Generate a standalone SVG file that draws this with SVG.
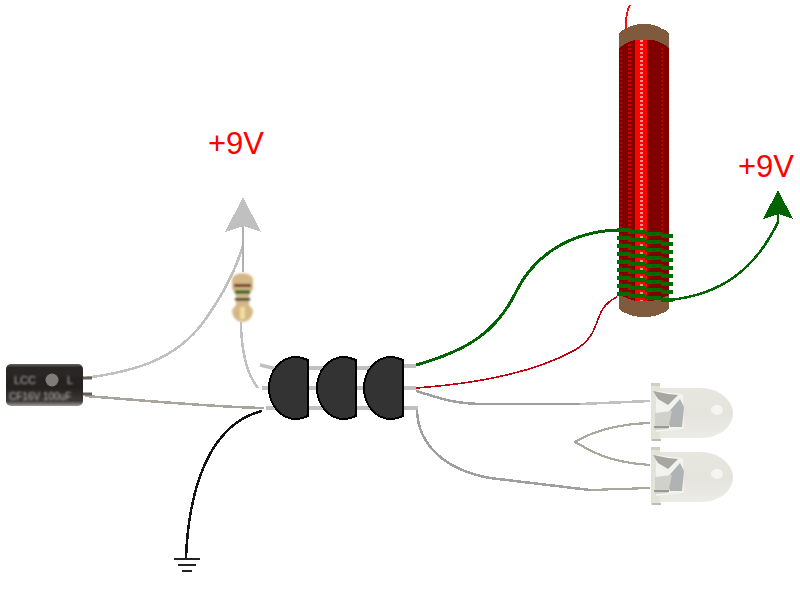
<svg xmlns="http://www.w3.org/2000/svg" width="800" height="600" viewBox="0 0 800 600">
<style>
.w{fill:none;stroke-linecap:butt;stroke-linejoin:round;shape-rendering:crispEdges}
.gray{stroke:#c0c0c0;stroke-width:2.5}
.lead{stroke:#c0c0c0;stroke-width:4;fill:none}
.led{stroke:#a9a99d;stroke-width:2.2}
.green{stroke:#006400;stroke-width:3}
.wind{stroke:#006c00;stroke-width:4;fill:none;shape-rendering:crispEdges}
.red{stroke:#c00010;stroke-width:1.6}
.t{fill:#333;stroke:#000;stroke-width:2;shape-rendering:crispEdges}
.v{font-family:"Liberation Sans",Arial,sans-serif;font-size:32px;fill:#ff0000}
.px{shape-rendering:crispEdges}
</style>
<defs>
<filter id="b" x="-10%" y="-10%" width="120%" height="120%"><feGaussianBlur stdDeviation="1"/></filter>
<filter id="b2" x="-10%" y="-10%" width="120%" height="120%"><feGaussianBlur stdDeviation="0.7"/></filter>
<linearGradient id="cap" x1="0" y1="0" x2="0" y2="1"><stop offset="0" stop-color="#6a6360"/><stop offset=".08" stop-color="#2c2826"/><stop offset=".55" stop-color="#242120"/><stop offset=".88" stop-color="#3c3837"/><stop offset="1" stop-color="#a09b97"/></linearGradient>
<linearGradient id="led" x1="0" y1="0" x2="0" y2="1"><stop offset="0" stop-color="#e8e7df"/><stop offset=".5" stop-color="#e4e3dc"/><stop offset="1" stop-color="#ecece6"/></linearGradient>
<g id="ledshape">
<g filter="url(#b2)">
<path d="M660 5 H700 C722 5 733 20 733 30 C733 42 722 55 700 55 H660 Z" fill="url(#led)"/>
<rect x="651" y="0" width="9" height="58" fill="#e4e3da"/>
<rect x="651" y="0" width="9" height="3" fill="#cfcec4"/>
<rect x="652" y="56" width="9" height="2" fill="#bdbcb2"/>
<path d="M656 8 L683 11 L684 46 L656 49 Z" fill="#f2f2ee"/>
<path d="M653 8 L668 11 L678 12 L668 22 L658 16 Z" fill="#a8a8a0"/>
<path d="M666 32 L680 16 L684 24 L682 44 L670 44 Z" fill="#b0b3b3"/>
<path d="M655 30 L672 28 L668 46 L655 47 Z" fill="#d0d1cc"/>
<rect x="654" y="43" width="15" height="2" fill="#9a9a92"/>
<ellipse cx="717" cy="27" rx="6" ry="5" fill="#f5f5f1"/>
</g>
</g>
<path id="turn" d="M617 0 H629 M629 2 H645 M645 4 H661 M661 6 H673"/>
</defs>
<rect width="800" height="600" fill="#fff"/>

<g id="connectors">
<path class="w gray" d="M85 378 C130 372 175 362 205 320 C222 296 236 270 243 245"/>
<path class="w" stroke="#b0b0b0" stroke-width="2.5" d="M243 214 V272"/>
<path class="w gray" d="M241 322 C241 350 247 375 258 388"/>
<path class="w" stroke="#a9a49c" stroke-width="2.5" d="M85 396 C140 400 210 407 264 408"/>
<path class="w" stroke="#141414" stroke-width="2.5" d="M262 411 C225 420 190 460 186 558"/>
<path class="w green" d="M416 365 C470 350 498 330 517 290 C535 255 570 232 617 230"/>
<path class="w" stroke="#006400" stroke-width="2.5" d="M669 300 C720 295 755 270 778 222 V212"/>
<path class="w red" d="M416 388 C470 384 530 375 575 350 C605 332 590 310 617 297"/>
<path class="w" stroke="#9f9f9f" stroke-width="2.5" d="M416 391 C440 398 450 403 480 404 L580 404"/>
<path class="w" stroke="#c0c0c0" stroke-width="2.5" d="M580 404 L650 401"/>
<path class="w" stroke="#9f9f9f" stroke-width="2.5" d="M417 410 C418 445 445 470 490 478 L590 490"/>
<path class="w led" d="M590 490 L650 488"/>
<path class="w led" d="M650 423 C620 424 595 430 575 442 C590 450 605 462 650 465"/>
<path class="w" stroke="#ee1010" stroke-width="1.8" d="M630 5 C626 12 625 24 627 33 C629 38 632 39 636 39"/>
</g>

<g id="plus9v-left">
<text class="v" x="208" y="154" textLength="56" lengthAdjust="spacingAndGlyphs">+9V</text>
<path class="px" d="M243 197 L261 232 L243 226 L225 232 Z" fill="#c0c0c0"/>
</g>

<g id="plus9v-right">
<text class="v" x="738" y="177" textLength="56" lengthAdjust="spacingAndGlyphs">+9V</text>
<path class="px" d="M778 190 L793 219 L778 214 L763 219 Z" fill="#006400"/>
</g>

<g id="capacitor">
<path d="M83 378 H92 M83 394 H92" stroke="#6a5f55" stroke-width="3" filter="url(#b2)"/>
<rect x="6" y="364" width="77" height="42" rx="5" fill="url(#cap)" filter="url(#b2)"/>
<g font-family="'Liberation Sans',Arial,sans-serif" fill="#b8b4b0" filter="url(#b)">
<text x="14" y="384" font-size="11">LCC</text>
<text x="67" y="384" font-size="11">L</text>
<text x="9" y="400" font-size="10">CF16V 100uF</text>
</g>
<circle cx="52" cy="380" r="6.5" fill="#7f7c79" filter="url(#b2)"/>
</g>

<g id="resistor">
<g filter="url(#b)">
<path d="M232 280 C232 271 253 271 253 280 V289 L249 295 V305 L253 310 C253 326 232 326 232 310 L236 305 V295 L232 289 Z" fill="#d4b785"/>
<rect x="234" y="284" width="17" height="3" fill="#6a2018"/>
<rect x="235" y="290" width="15" height="4" fill="#3f6a3a"/>
<rect x="235" y="298" width="15" height="2.5" fill="#222"/>
<rect x="240" y="307" width="5" height="12" fill="#f0dca0"/>
</g>
</g>

<g id="transistors">
<path class="lead px" d="M300 368 H325 M350 368 H370 M400 366 H416 M262 388 H276 M300 388 H325 M350 388 H370 M400 388 H416 M266 408 H276 M300 408 H325 M350 408 H370 M400 408 H418"/>
<path d="M260 365 L277 369" stroke="#c0c0c0" stroke-width="3.5" fill="none"/>
<path class="t" d="M308 360 Q300 357 296 357 C280 357 269 372 269 388 C269 404 280 419 296 419 Q302 419 308 416 Z"/>
<path class="t" d="M356 360 Q348 357 344 357 C328 357 317 372 317 388 C317 404 328 419 344 419 Q350 419 356 416 Z"/>
<path class="t" d="M403 360 Q395 357 391 357 C375 357 364 372 364 388 C364 404 375 419 391 419 Q397 419 403 416 Z"/>
</g>

<g id="coil">
<path class="px" d="M619 36 Q619 30 626 29 Q632 24 644 24 Q656 24 662 29 Q669 30 669 36 V306 Q669 312 662 313 Q656 317 644 317 Q632 317 626 313 Q619 312 619 306 Z" fill="#7f5a3c"/>
<path class="px" d="M619 48 Q627 42 635 40 H653 Q662 42 669 48 V295 Q662 298 653 301 H635 Q627 298 619 295 Z" fill="#800000"/>
<rect class="px" x="635" y="40" width="12" height="261" fill="#ff0000"/>
<path class="px" d="M641.500 40 V301" stroke="#ff9090" stroke-width="3" stroke-dasharray="2 2" fill="none"/>
<path class="px" d="M629 44 V298" stroke="#d40000" stroke-width="3" stroke-dasharray="2 2" fill="none"/>
<path class="px" d="M621 50 V295" stroke="#c00000" stroke-width="2" stroke-dasharray="2 2" fill="none"/>
<path class="px" d="M662 48 V296" stroke="#b80000" stroke-width="2" stroke-dasharray="2 2" fill="none"/>
<g class="wind">
<use href="#turn" y="230"/><use href="#turn" y="238"/><use href="#turn" y="246"/><use href="#turn" y="254"/><use href="#turn" y="262"/><use href="#turn" y="270"/><use href="#turn" y="278"/><use href="#turn" y="286"/><use href="#turn" y="294"/>
</g>
</g>

<g id="led-top"><use href="#ledshape" y="383"/></g>
<g id="led-bottom"><use href="#ledshape" y="447"/></g>

<g id="ground">
<path class="px" d="M186 556 V559 M174 559 H200 M178 565 H196 M182 571 H192" stroke="#222" stroke-width="2" fill="none"/>
</g>
</svg>
